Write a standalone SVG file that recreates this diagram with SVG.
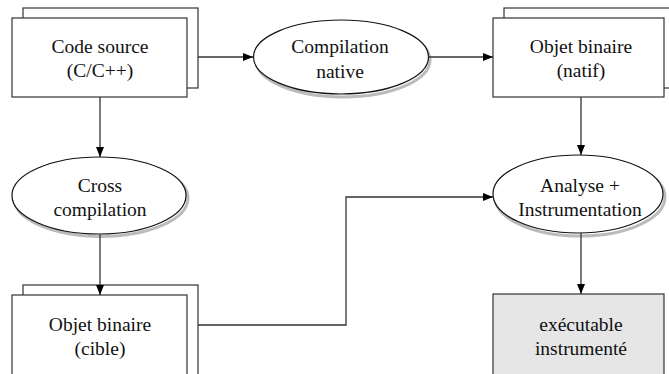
<svg xmlns="http://www.w3.org/2000/svg" width="669" height="374" viewBox="0 0 669 374">
<style>
.box{fill:#fff;stroke:#333;stroke-width:1.2}
.exec{fill:#e6e6e6;stroke:#333;stroke-width:1.2}
.ell{fill:#fff;stroke:#111;stroke-width:1.2}
.shadow{fill:none;stroke:#bbb;stroke-width:3}
.conn{fill:none;stroke:#333;stroke-width:1.3}
.t{font-family:'Liberation Serif','DejaVu Serif',serif;font-size:19.5px;fill:#111;text-anchor:middle}
</style>
<defs>
<marker id="arr" viewBox="0 0 10 8" refX="10" refY="4" markerWidth="10" markerHeight="8" markerUnits="userSpaceOnUse" orient="auto">
<path d="M0,0 L10,4 L0,8 Z" fill="#000"/>
</marker>
</defs>
<g id="code-source">
<rect class="box" x="23" y="8" width="175" height="80"/>
<rect class="box" x="12" y="18" width="175" height="79"/>
<text class="t" x="100" y="53">Code source</text>
<text class="t" x="100" y="77">(C/C++)</text>
</g>
<g id="compilation-native">
<ellipse class="shadow" cx="343" cy="60" rx="87" ry="37"/>
<ellipse class="ell" cx="341" cy="57" rx="87.5" ry="37"/>
<text class="t" x="340" y="53">Compilation</text>
<text class="t" x="340" y="78">native</text>
</g>
<g id="objet-natif">
<rect class="box" x="504" y="8" width="170" height="80"/>
<rect class="box" x="493" y="18" width="171" height="79"/>
<text class="t" x="581" y="53">Objet binaire</text>
<text class="t" x="581" y="77">(natif)</text>
</g>
<g id="cross-compilation">
<ellipse class="shadow" cx="101" cy="198" rx="87" ry="38.5"/>
<ellipse class="ell" cx="99" cy="195.5" rx="87" ry="38.5"/>
<text class="t" x="100" y="192">Cross</text>
<text class="t" x="100" y="216">compilation</text>
</g>
<g id="analyse">
<ellipse class="shadow" cx="580" cy="197" rx="85" ry="39"/>
<ellipse class="ell" cx="578" cy="194" rx="85" ry="39"/>
<text class="t" x="580" y="192">Analyse +</text>
<text class="t" x="580" y="216">Instrumentation</text>
</g>
<g id="objet-cible">
<rect class="box" x="23" y="285" width="175" height="100"/>
<rect class="box" x="12" y="295" width="175" height="100"/>
<text class="t" x="100" y="331">Objet binaire</text>
<text class="t" x="100" y="355">(cible)</text>
</g>
<g id="executable">
<rect class="exec" x="493" y="294" width="171" height="100"/>
<text class="t" x="581" y="331">exécutable</text>
<text class="t" x="581" y="355">instrumenté</text>
</g>
<g id="connectors">
<path class="conn" d="M198,57 H253" marker-end="url(#arr)"/>
<path class="conn" d="M428,57 H493" marker-end="url(#arr)"/>
<path class="conn" d="M100,97 V157" marker-end="url(#arr)"/>
<path class="conn" d="M100,234 V295" marker-end="url(#arr)"/>
<path class="conn" d="M581,97 V155" marker-end="url(#arr)"/>
<path class="conn" d="M581,233 V294" marker-end="url(#arr)"/>
<path class="conn" d="M198,325 H346 V197 H493" marker-end="url(#arr)"/>
</g>
</svg>
